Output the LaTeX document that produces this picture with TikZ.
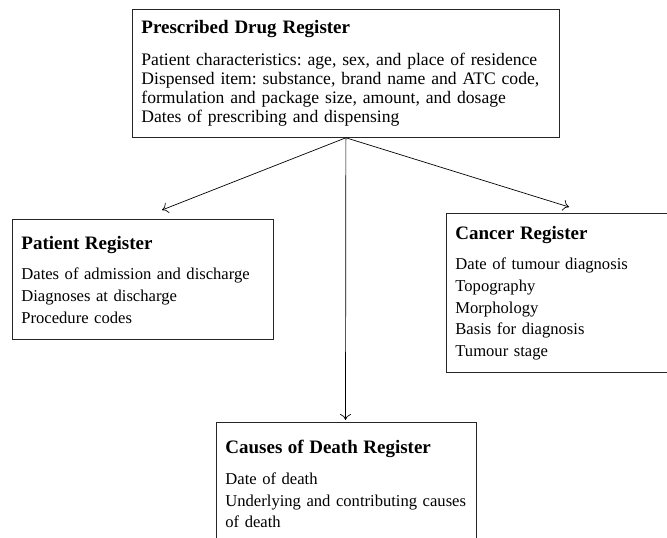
\documentclass[tikz,border=0pt]{standalone}
\usepackage{fontspec}
\setmainfont{Liberation Serif}
\usetikzlibrary{arrows.meta}
\frenchspacing

\begin{document}
\begin{tikzpicture}[x=1pt,y=1pt,
	regbox/.style={draw=black!85, line width=0.8pt, anchor=north west, align=left, inner xsep=9pt, inner ysep=11pt, font=\fontsize{16.6}{21.7}\selectfont},
	link/.style={line width=0.7pt, -{To[length=6pt,width=11pt]}}]
\clip (0,0) rectangle (667,538);
\node[regbox, text width=409pt, font=\fontsize{17.6}{19}\selectfont] (drug) at (132,529) {{\fontsize{19}{19}\selectfont\bfseries Prescribed Drug Register}\\[13pt]
	Patient characteristics: age, sex, and place of residence\\
	Dispensed item: substance, brand name and ATC code,\\
	formulation and package size, amount, and dosage\\
	Dates of prescribing and dispensing};
\node[regbox, text width=243pt, inner ysep=16.5pt] (patient) at (12,319) {{\fontsize{19}{19}\selectfont\bfseries Patient Register}\\[9pt]
	Dates of admission and discharge\\
	Diagnoses at discharge\\
	Procedure codes};
\node[regbox, text width=222pt, inner ysep=12.5pt] (cancer) at (446,325) {{\fontsize{19}{19}\selectfont\bfseries Cancer Register}\\[9pt]
	Date of tumour diagnosis\\
	Topography\\
	Morphology\\
	Basis for diagnosis\\
	Tumour stage};
\node[regbox, text width=242pt, inner ysep=18pt] (death) at (216,116) {{\fontsize{19}{19}\selectfont\bfseries Causes of Death Register}\\[9pt]
	Date of death\\
	Underlying and contributing causes\\
	of death};
% arrow ends
\coordinate (patin) at (162,328);
\coordinate (deathin) at (345.5,118);
\coordinate (cancerin) at (569,331);
\draw[link] (drug.south) -- (patin);
\draw[link] (drug.south) -- (deathin);
\draw[link] (drug.south) -- (cancerin);
\end{tikzpicture}
\end{document}
